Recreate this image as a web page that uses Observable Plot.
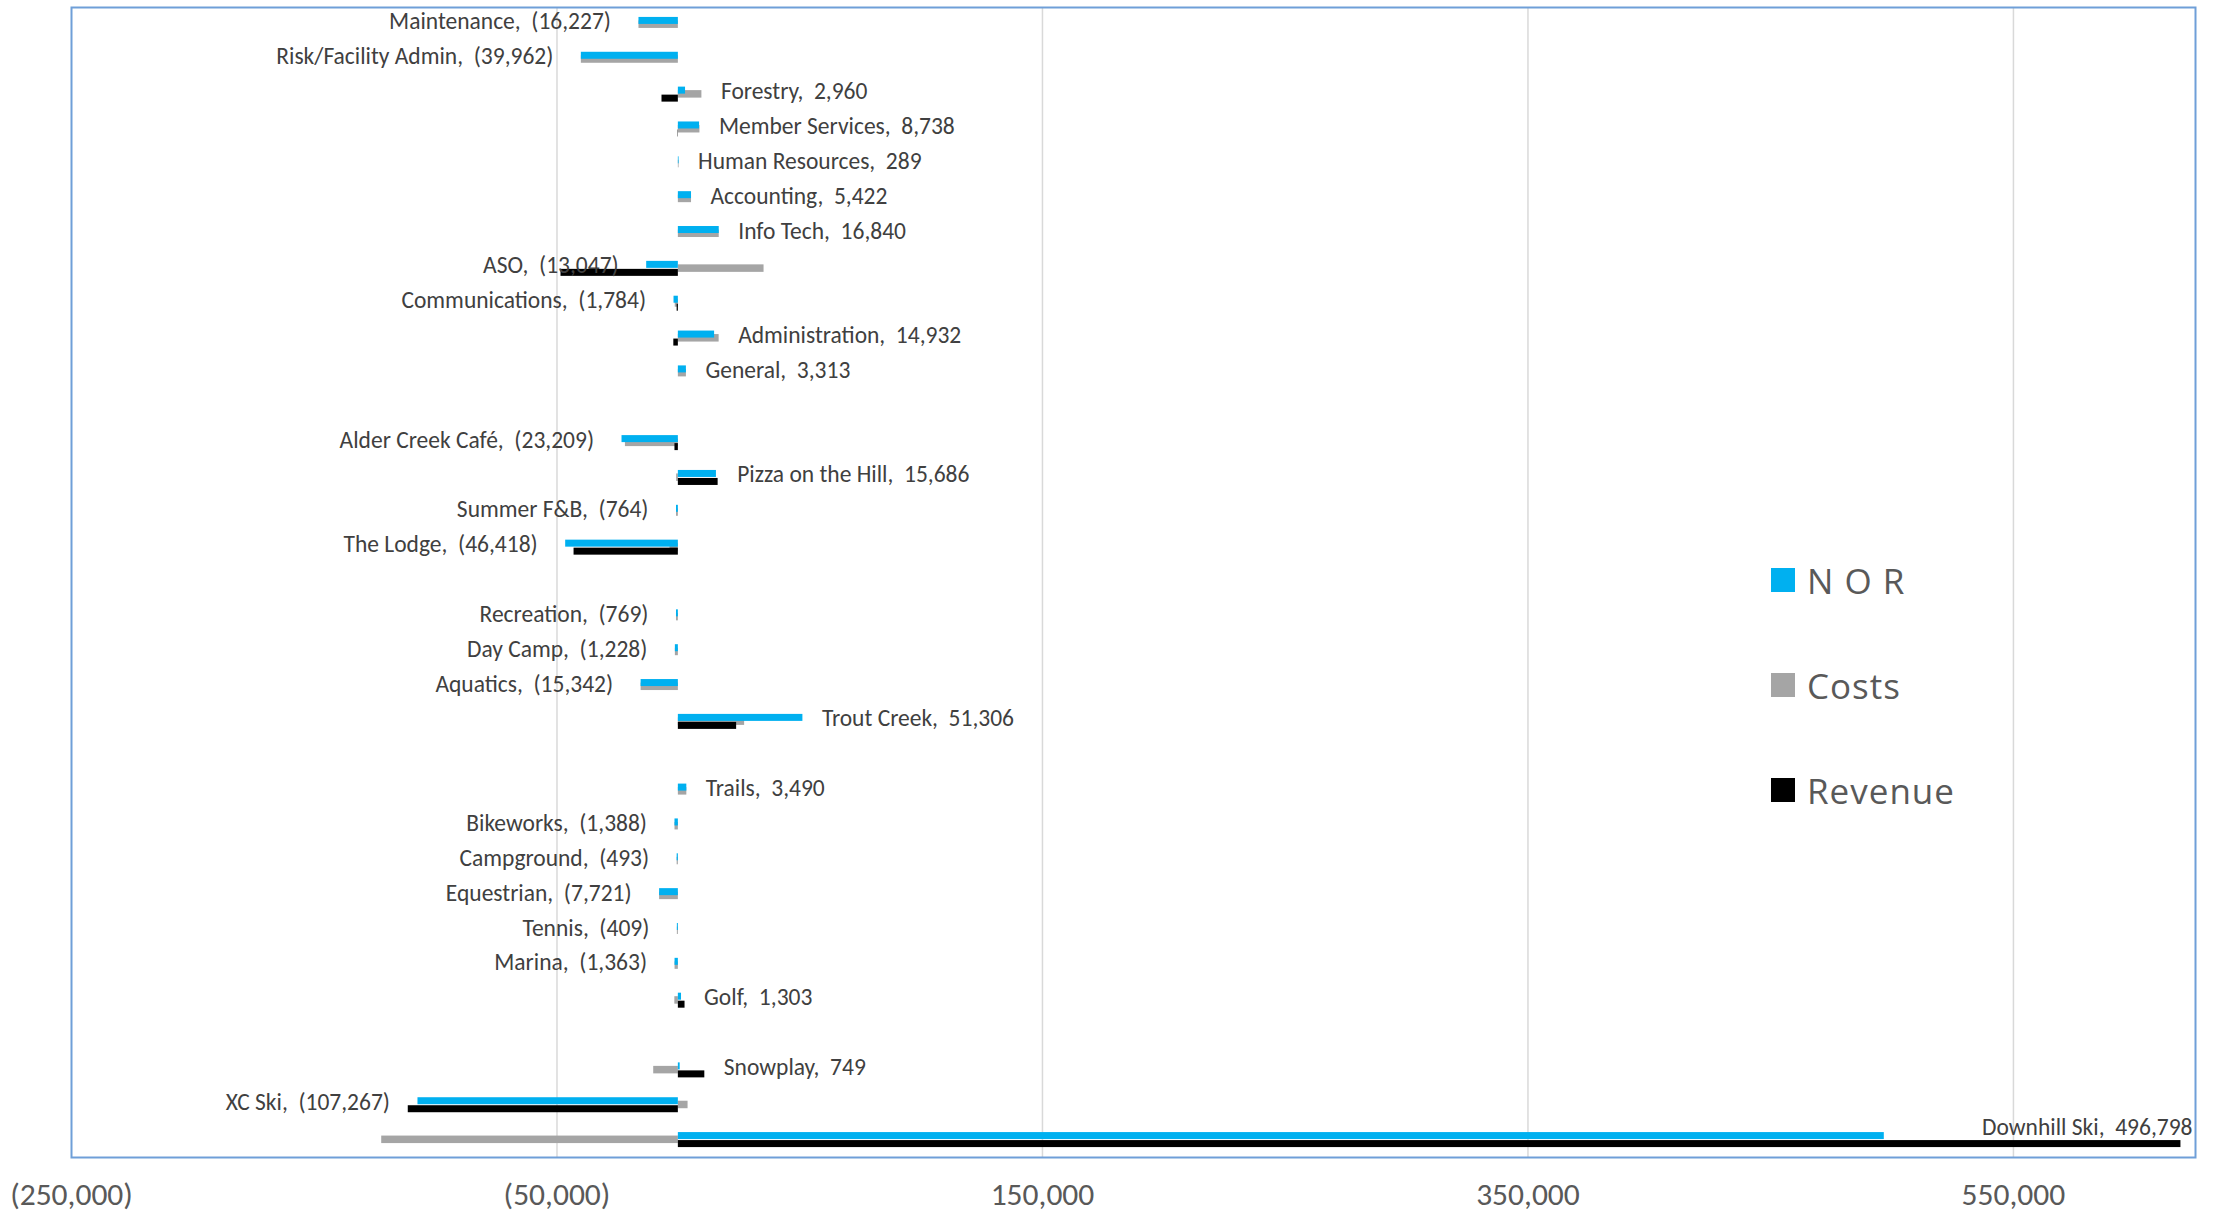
<!DOCTYPE html>
<html>
<head>
<meta charset="utf-8">
<script src="https://cdn.jsdelivr.net/npm/d3@7"></script>
<script src="https://cdn.jsdelivr.net/npm/@observablehq/plot@0.6"></script>
<style>
  html, body { margin: 0; padding: 0; background: #fff; }
  #chart { position: relative; width: 2216px; height: 1215px; }
  .legend { position: absolute; left: 1771px; top: 568px; font-family: "Open Sans", "Noto Sans", sans-serif; font-size: 35px; letter-spacing: 1px; color: #595959; }
  .legend .item { display: flex; align-items: center; height: 24px; margin-bottom: 81px; white-space: pre; }
  .legend .swatch { width: 24px; height: 24px; margin-right: 12px; flex: none; }
</style>
</head>
<body>
<div id="chart"></div>
<script>
// Departments, grouped by division (a blank row separates divisions)
const divisions = [
  ["Maintenance", "Risk/Facility Admin", "Forestry", "Member Services", "Human Resources",
   "Accounting", "Info Tech", "ASO", "Communications", "Administration", "General"],
  ["Alder Creek Café", "Pizza on the Hill", "Summer F&B", "The Lodge"],
  ["Recreation", "Day Camp", "Aquatics", "Trout Creek"],
  ["Trails", "Bikeworks", "Campground", "Equestrian", "Tennis", "Marina", "Golf"],
  ["Snowplay", "XC Ski", "Downhill Ski"]
];

// Net operating result per department (same order as the flattened divisions)
const nor = [
  -16227, -39962, 2960, 8738, 289, 5422, 16840, -13047, -1784, 14932, 3313,
  -23209, 15686, -764, -46418,
  -769, -1228, -15342, 51306,
  3490, -1388, -493, -7721, -409, -1363, 1303,
  749, -107267, 496798
];

// Costs and revenue, as booked (signed)
const costs = [
  -16227, -39962, 9700, 8888, 289, 5422, 16840, 35300, -1284, 16800, 3313,
  -21809, -700, -764, -3450,
  -769, -1228, -15342, 27300,
  3490, -1388, -493, -7721, -409, -1363, -1447,
  -10151, 4000, -122202
];
const revenue = [
  0, 0, -6740, -150, 0, 0, 0, -48347, -500, -1868, 0,
  -1400, 16386, 0, -42968,
  0, 0, 0, 24006,
  0, 0, 0, 0, 0, 0, 2750,
  10900, -111267, 619000
];

const xTicks = [-250000, -50000, 150000, 350000, 550000];
const xDomain = [-250000, 625000];
const seriesNames = ["N O R", "Costs", "Revenue"];
const seriesColors = ["#00b0f0", "#a5a5a5", "#000000"];

// Row table and the y domain with spacer rows between divisions
const categories = divisions.flat();
const rows = categories.map((name, i) => ({name, nor: nor[i], costs: costs[i], revenue: revenue[i]}));
const yDomain = [];
divisions.forEach((group, gi) => {
  if (gi > 0) yDomain.push("\u200b".repeat(gi));
  yDomain.push(...group);
});

const fmt = d3.format("(,");
const labelText = d => `${d.name},\u00a0 ${fmt(d.nor)}`;
const labelFont = "Calibri, Carlito, Lato, sans-serif";

// Three thin bars stacked around each row's centre
const band = (1215 - 7 - 58) / yDomain.length;
const half = band / 2;

const wide = d => d.nor > xDomain[1] * 0.6;
// Positive labels sit just past the furthest bar of the row
const reach = d => Math.max(d.nor, d.costs, d.revenue);

const chart = Plot.plot({
  width: 2216,
  height: 1215,
  marginLeft: 71,
  marginRight: 21,
  marginTop: 7,
  marginBottom: 58,
  style: {fontFamily: labelFont, background: "white"},
  x: {domain: xDomain, label: null},
  y: {domain: yDomain, axis: null, padding: 0, round: false},
  marks: [
    Plot.gridX(xTicks.slice(1), {stroke: "#d9d9d9", strokeWidth: 1.5, strokeOpacity: 1}),
    Plot.barX(rows, {x: "costs", y: "name", fill: seriesColors[1],
      insetTop: half - 4, insetBottom: half - 3.5}),
    Plot.barX(rows, {x: "nor", y: "name", fill: seriesColors[0],
      insetTop: half - 7.5, insetBottom: half + 0.5}),
    Plot.barX(rows, {x: "revenue", y: "name", fill: seriesColors[2],
      insetTop: half + 0.5, insetBottom: half - 7.5}),
    Plot.text(rows.filter(d => d.nor >= 0 && !wide(d)), {
      x: reach, y: "name", text: labelText, textAnchor: "start",
      dx: 19, dy: -3, fontSize: 23.5, fill: "#404040"}),
    Plot.text(rows.filter(d => d.nor < 0), {
      x: "nor", y: "name", text: labelText, textAnchor: "end",
      dx: -28, dy: -3, fontSize: 23.5, fill: "#404040"}),
    Plot.text(rows.filter(wide), {
      y: "name", frameAnchor: "right", text: labelText, textAnchor: "end",
      dx: -3, dy: -13, fontSize: 23.5, fill: "#404040"}),
    Plot.frame({stroke: "#6f9fd8", strokeWidth: 2}),
    Plot.axisX(xTicks, {anchor: "bottom", tickSize: 0, tickPadding: 25,
      tickFormat: fmt, fontSize: 31.5, fill: "#595959", label: null})
  ]
});

const host = document.getElementById("chart");
host.appendChild(chart);

// Legend, stacked vertically inside the plot area
const legend = document.createElement("div");
legend.className = "legend";
seriesNames.forEach((name, i) => {
  const item = document.createElement("div");
  item.className = "item";
  const sw = document.createElement("span");
  sw.className = "swatch";
  sw.style.background = seriesColors[i];
  const label = document.createElement("span");
  label.textContent = name;
  item.append(sw, label);
  legend.appendChild(item);
});
host.appendChild(legend);
</script>
</body>
</html>
